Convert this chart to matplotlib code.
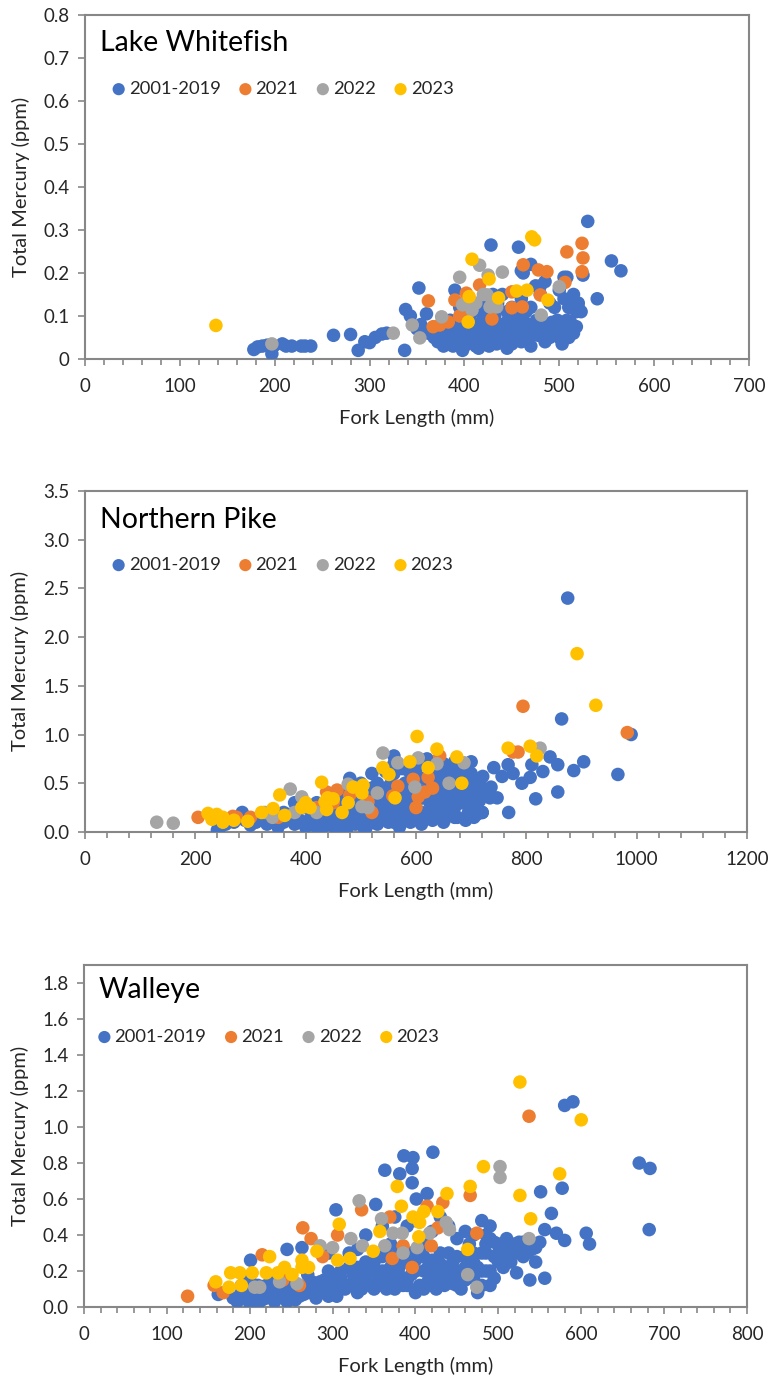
import matplotlib.pyplot as plt
from matplotlib.ticker import MultipleLocator, FormatStrFormatter

plt.rcParams['font.family'] = ['Lato', 'DejaVu Sans']

# Serie names and colours (Excel default palette)
series_names = ['2001-2019', '2021', '2022', '2023']
series_colors = ['#4472C4', '#ED7D31', '#A5A5A5', '#FFC000']

# ---------------- Lake Whitefish ----------------
lw_blue_x = [178, 182, 187, 192, 197, 199, 208, 212, 218, 228, 232, 238,
             262, 280, 288, 295, 300, 306, 313, 318,
             337, 338, 343, 352, 350, 354, 360, 362,
             368, 372, 375, 378, 380, 383, 386, 388, 390, 392,
             395, 397, 400, 402, 404, 406, 408, 410, 412, 414,
             416, 418, 420, 422, 424, 426, 428, 430, 432, 434,
             436, 438, 440, 442, 444, 446, 448, 450, 452, 454,
             456, 458, 460, 462, 464, 466, 468, 470, 472, 474,
             476, 478, 480, 482, 484, 486, 488, 490, 492, 494,
             496, 498, 500, 503, 505, 508, 510, 512, 515, 518,
             390, 395, 400, 405, 410, 415, 420, 425, 430, 435,
             440, 445, 450, 455, 460, 465, 470, 475, 480, 485,
             490, 495, 500, 505, 508, 510, 512, 515, 518, 520,
             523, 525, 540, 505, 520,
             428, 457, 460, 470, 530, 555, 565, 462, 480,
             385, 398, 415, 425, 445, 470, 485, 500, 510, 395]
lw_blue_y = [0.022, 0.028, 0.030, 0.032, 0.012, 0.030, 0.035, 0.030, 0.030, 0.030, 0.030, 0.030,
             0.055, 0.057, 0.020, 0.040, 0.038, 0.050, 0.058, 0.060,
             0.020, 0.115, 0.100, 0.165, 0.070, 0.080, 0.105, 0.060,
             0.050, 0.040, 0.060, 0.030, 0.075, 0.045, 0.060, 0.030, 0.080, 0.050,
             0.040, 0.065, 0.030, 0.050, 0.070, 0.090, 0.040, 0.060, 0.030, 0.080,
             0.050, 0.070, 0.040, 0.090, 0.060, 0.030, 0.075, 0.050, 0.100, 0.035,
             0.065, 0.080, 0.050, 0.040, 0.070, 0.090, 0.060, 0.035, 0.080, 0.050,
             0.070, 0.060, 0.040, 0.090, 0.065, 0.075, 0.050, 0.080, 0.060, 0.070,
             0.090, 0.055, 0.075, 0.060, 0.080, 0.065, 0.070, 0.050, 0.085, 0.060,
             0.075, 0.090, 0.070, 0.035, 0.080, 0.090, 0.070, 0.085, 0.060, 0.075,
             0.160, 0.120, 0.100, 0.130, 0.110, 0.120, 0.100, 0.140, 0.150, 0.130,
             0.150, 0.110, 0.120, 0.100, 0.140, 0.110, 0.120, 0.170, 0.150, 0.180,
             0.130, 0.120, 0.160, 0.140, 0.190, 0.120, 0.130, 0.150, 0.110, 0.120,
             0.110, 0.195, 0.140, 0.190, 0.130,
             0.265, 0.260, 0.205, 0.220, 0.320, 0.228, 0.205, 0.200, 0.170,
             0.090, 0.020, 0.025, 0.045, 0.025, 0.030, 0.040, 0.050, 0.050, 0.085]

lw_orange_x = [362, 390, 402, 416, 367, 374, 383, 429, 450, 450, 461, 462,
               478, 487, 480, 508, 524, 525, 524, 506, 405, 395]
lw_orange_y = [0.135, 0.137, 0.153, 0.172, 0.075, 0.079, 0.086, 0.093, 0.156, 0.119, 0.121, 0.219,
               0.207, 0.203, 0.149, 0.249, 0.269, 0.235, 0.203, 0.178, 0.110, 0.100]

lw_gray_x = [197, 325, 345, 353, 376, 395, 416, 425, 440, 398, 408, 424, 430,
             434, 427, 500, 481, 412, 420]
lw_gray_y = [0.035, 0.060, 0.079, 0.049, 0.098, 0.190, 0.218, 0.195, 0.202, 0.126, 0.114, 0.149, 0.137,
             0.121, 0.121, 0.168, 0.102, 0.130, 0.150]

lw_yellow_x = [138, 408, 471, 474, 426, 405, 436, 455, 466, 488, 404]
lw_yellow_y = [0.078, 0.232, 0.284, 0.277, 0.186, 0.145, 0.142, 0.158, 0.160, 0.137, 0.086]

# ---------------- Northern Pike ----------------
np_blue_x = [240, 245, 255, 270, 285, 290, 300, 310, 320, 330,
             340, 350, 360, 370, 380, 390, 400, 410, 420, 425,
             430, 440, 445, 450, 460, 465, 470, 475, 480, 490,
             500, 505, 510, 515, 520, 525, 530, 535, 540, 545,
             550, 555, 560, 565, 570, 575, 580, 585, 590, 595,
             600, 605, 610, 615, 620, 625, 630, 635, 640, 645,
             650, 655, 660, 665, 670, 675, 680, 685, 690, 695,
             700, 705, 710, 715, 720,
             480, 490, 500, 520, 530, 545, 560, 575, 590, 600,
             620, 640, 650, 660, 670, 680, 700, 560, 510, 530,
             550, 570, 590, 610, 630, 650, 670, 690, 710, 380,
             400, 420, 440, 460, 360, 340,
             721, 741, 756, 767, 776, 792, 807, 830, 810, 736,
             747, 734, 720, 707, 768, 817, 857, 843, 857, 886,
             904, 966, 864, 875, 990, 700, 698,
             420, 430, 440, 450, 455, 460, 470, 480, 485, 495,
             500, 505, 510, 515, 520, 525, 530, 535, 540, 545,
             550, 555, 560, 565, 570, 575, 580, 585, 590, 595,
             600, 605, 610, 615, 620, 625, 630, 635, 640, 645,
             650, 655, 660, 665, 670, 675, 680, 685, 690, 695,
             700, 705, 710, 715, 720, 560, 580, 600, 610, 630,
             650, 670, 690, 520, 500, 490, 470, 460]
np_blue_y = [0.02, 0.05, 0.08, 0.10, 0.20, 0.12, 0.07, 0.10, 0.15, 0.08,
             0.12, 0.05, 0.10, 0.18, 0.08, 0.12, 0.05, 0.15, 0.10, 0.20,
             0.03, 0.08, 0.13, 0.06, 0.10, 0.02, 0.15, 0.04, 0.12, 0.08,
             0.20, 0.30, 0.15, 0.40, 0.25, 0.10, 0.35, 0.20, 0.28, 0.45,
             0.15, 0.30, 0.22, 0.40, 0.12, 0.32, 0.50, 0.25, 0.18, 0.38,
             0.30, 0.55, 0.20, 0.42, 0.35, 0.60, 0.25, 0.48, 0.30, 0.40,
             0.20, 0.55, 0.35, 0.45, 0.25, 0.60, 0.40, 0.30, 0.50, 0.20,
             0.35, 0.28, 0.45, 0.32, 0.20,
             0.55, 0.45, 0.50, 0.60, 0.50, 0.62, 0.70, 0.65, 0.60, 0.70,
             0.75, 0.68, 0.70, 0.62, 0.72, 0.55, 0.60, 0.78, 0.05, 0.08,
             0.10, 0.05, 0.10, 0.08, 0.12, 0.10, 0.15, 0.12, 0.18, 0.30,
             0.25, 0.30, 0.25, 0.35, 0.20, 0.22,
             0.57, 0.66, 0.57, 0.69, 0.60, 0.50, 0.56, 0.62, 0.69, 0.46,
             0.35, 0.35, 0.20, 0.45, 0.20, 0.34, 0.41, 0.77, 0.69, 0.63,
             0.72, 0.59, 1.16, 2.40, 1.00, 0.72, 0.60,
             0.05, 0.15, 0.20, 0.15, 0.25, 0.05, 0.28, 0.20, 0.10, 0.30,
             0.10, 0.05, 0.35, 0.20, 0.45, 0.30, 0.22, 0.12, 0.40, 0.25,
             0.35, 0.50, 0.10, 0.25, 0.35, 0.20, 0.30, 0.45, 0.35, 0.15,
             0.45, 0.20, 0.35, 0.55, 0.15, 0.30, 0.40, 0.20, 0.55, 0.15,
             0.45, 0.30, 0.20, 0.55, 0.40, 0.15, 0.30, 0.45, 0.35, 0.55,
             0.45, 0.15, 0.30, 0.50, 0.40, 0.60, 0.65, 0.60, 0.70, 0.65,
             0.62, 0.50, 0.65, 0.38, 0.40, 0.30, 0.40, 0.20]

np_orange_x = [205, 268, 275, 438, 457, 480, 513, 558, 595, 616, 622, 604, 567,
               643, 776, 785, 794, 983, 420, 450, 520, 600, 630, 350, 300]
np_orange_y = [0.15, 0.16, 0.15, 0.41, 0.43, 0.38, 0.31, 0.37, 0.54, 0.41, 0.56, 0.36, 0.47,
               0.78, 0.82, 0.82, 1.29, 1.02, 0.25, 0.30, 0.20, 0.25, 0.45, 0.15, 0.15]

np_gray_x = [130, 160, 326, 372, 393, 477, 502, 513, 540, 567, 604, 638, 598,
             687, 825, 340, 380, 420, 530, 660]
np_gray_y = [0.10, 0.09, 0.20, 0.44, 0.36, 0.49, 0.26, 0.25, 0.81, 0.71, 0.76, 0.70, 0.46,
             0.71, 0.86, 0.15, 0.20, 0.20, 0.40, 0.50]

np_yellow_x = [223, 239, 250, 250, 295, 353, 341, 362, 393, 408, 429, 435, 450,
               438, 466, 477, 486, 504, 502, 562, 540, 551, 589, 602, 622,
               638, 674, 683, 767, 807, 819, 892, 926, 230, 270, 320, 400, 440]
np_yellow_y = [0.19, 0.18, 0.15, 0.10, 0.11, 0.38, 0.24, 0.17, 0.25, 0.25, 0.51, 0.31, 0.34,
               0.23, 0.20, 0.30, 0.46, 0.48, 0.40, 0.35, 0.66, 0.59, 0.72, 0.98, 0.66,
               0.85, 0.77, 0.50, 0.86, 0.88, 0.78, 1.83, 1.30, 0.13, 0.12, 0.20, 0.30, 0.35]

# ---------------- Walleye ----------------
wa_blue_x = [185, 190, 195, 200, 205, 210, 215, 220, 225, 230,
             235, 240, 245, 250, 255, 260, 265, 270, 275, 280,
             285, 290, 295, 300, 305, 310, 315, 320, 325, 330,
             335, 340, 345, 350, 355, 360, 365, 370, 375, 380,
             385, 390, 395, 400, 405, 410, 415, 420, 425, 430,
             435, 440, 445, 450, 455, 460, 465, 470, 475, 480,
             485, 490, 495, 500,
             200, 210, 230, 250, 270, 290, 310, 330, 350, 370,
             390, 410, 430, 450, 470, 490, 400, 420, 360, 380,
             440, 460, 480, 500,
             162, 201, 245, 263, 304, 352, 363, 381, 396, 386,
             397, 421, 396, 401, 414, 340, 360, 375, 390, 400,
             420, 430, 440, 450, 410, 370, 320, 330, 295, 480,
             485, 495, 505, 510, 520, 525, 530, 540, 545, 506,
             522, 538, 556, 551, 577, 564, 556, 570, 580, 580,
             590, 670, 683, 682, 606, 610, 545, 530, 515,
             180, 190, 200, 210, 215, 220, 230, 240, 245, 255,
             260, 270, 275, 280, 290, 295, 300, 305, 310, 320,
             325, 330, 335, 340, 345, 350, 355, 360, 365, 370,
             375, 380, 385, 390, 395, 400, 405, 410, 415, 420,
             425, 430, 435, 440, 445, 450, 455, 460, 465, 470,
             475, 480, 485, 490, 495, 500, 505, 510, 515, 520,
             525, 530, 535, 545, 550, 485, 490, 470, 460, 475]
wa_blue_y = [0.03, 0.08, 0.05, 0.02, 0.10, 0.06, 0.04, 0.12, 0.07, 0.03,
             0.10, 0.06, 0.15, 0.08, 0.04, 0.12, 0.07, 0.18, 0.10, 0.05,
             0.14, 0.08, 0.20, 0.12, 0.06, 0.16, 0.10, 0.22, 0.14, 0.08,
             0.18, 0.25, 0.12, 0.20, 0.15, 0.28, 0.10, 0.22, 0.16, 0.30,
             0.12, 0.25, 0.18, 0.08, 0.32, 0.20, 0.14, 0.26, 0.10, 0.30,
             0.18, 0.22, 0.13, 0.28, 0.20, 0.15, 0.35, 0.25, 0.12, 0.30,
             0.20, 0.38, 0.28, 0.35,
             0.15, 0.12, 0.14, 0.18, 0.12, 0.15, 0.20, 0.15, 0.10, 0.14,
             0.12, 0.10, 0.15, 0.12, 0.16, 0.12, 0.20, 0.18, 0.20, 0.18,
             0.30, 0.22, 0.20, 0.25,
             0.07, 0.26, 0.32, 0.33, 0.54, 0.57, 0.76, 0.74, 0.77, 0.84,
             0.83, 0.86, 0.69, 0.60, 0.63, 0.40, 0.45, 0.50, 0.45, 0.48,
             0.42, 0.50, 0.45, 0.38, 0.38, 0.35, 0.30, 0.32, 0.30, 0.48,
             0.40, 0.36, 0.34, 0.38, 0.33, 0.30, 0.36, 0.32, 0.35, 0.22,
             0.19, 0.15, 0.16, 0.64, 0.66, 0.52, 0.43, 0.41, 0.37, 1.12,
             1.14, 0.80, 0.77, 0.43, 0.41, 0.35, 0.25, 0.28, 0.25,
             0.05, 0.12, 0.08, 0.02, 0.10, 0.05, 0.09, 0.12, 0.03, 0.10,
             0.06, 0.08, 0.14, 0.10, 0.12, 0.06, 0.18, 0.10, 0.14, 0.12,
             0.18, 0.22, 0.10, 0.15, 0.20, 0.25, 0.12, 0.15, 0.20, 0.28,
             0.10, 0.22, 0.25, 0.15, 0.30, 0.26, 0.12, 0.28, 0.22, 0.12,
             0.20, 0.24, 0.12, 0.16, 0.25, 0.18, 0.10, 0.28, 0.18, 0.30,
             0.22, 0.12, 0.30, 0.20, 0.16, 0.30, 0.28, 0.32, 0.30, 0.35,
             0.36, 0.32, 0.30, 0.33, 0.36, 0.35, 0.45, 0.40, 0.42, 0.08]

wa_orange_x = [125, 157, 168, 215, 264, 274, 288, 306, 335, 369, 385, 372,
               396, 414, 427, 433, 419, 466, 474, 537, 240, 260]
wa_orange_y = [0.06, 0.12, 0.08, 0.29, 0.44, 0.38, 0.28, 0.40, 0.54, 0.50, 0.34, 0.27,
               0.22, 0.56, 0.44, 0.58, 0.34, 0.62, 0.41, 1.06, 0.15, 0.12]

wa_gray_x = [206, 212, 236, 257, 285, 300, 322, 336, 332, 359, 363, 373, 384,
             385, 402, 417, 437, 441, 502, 502, 463, 474, 537]
wa_gray_y = [0.11, 0.11, 0.14, 0.13, 0.34, 0.33, 0.38, 0.34, 0.59, 0.49, 0.34, 0.41, 0.41,
             0.30, 0.33, 0.41, 0.47, 0.43, 0.78, 0.72, 0.18, 0.11, 0.38]

wa_yellow_x = [159, 175, 190, 177, 188, 203, 224, 220, 234, 242, 251, 263, 263,
               271, 281, 308, 306, 321, 378, 383, 357, 349, 397, 405, 410,
               404, 427, 438, 482, 466, 526, 539, 463, 574, 526, 600]
wa_yellow_y = [0.14, 0.11, 0.12, 0.19, 0.19, 0.19, 0.28, 0.19, 0.19, 0.22, 0.18, 0.26, 0.22,
               0.22, 0.31, 0.46, 0.26, 0.27, 0.67, 0.56, 0.42, 0.31, 0.50, 0.47, 0.53,
               0.39, 0.53, 0.63, 0.78, 0.67, 0.62, 0.49, 0.32, 0.74, 1.25, 1.04]

panels = [
    dict(title='Lake Whitefish', rect=[0.1104, 0.7397, 0.8623, 0.2494],
         xmax=700, xmajor=100, xminor=20, ymax=0.8, ymajor=0.1, yfmt=None,
         title_y=0.92, leg_x=0.03, leg_y=0.785,
         data=[(lw_blue_x, lw_blue_y), (lw_orange_x, lw_orange_y),
               (lw_gray_x, lw_gray_y), (lw_yellow_x, lw_yellow_y)]),
    dict(title='Northern Pike', rect=[0.1104, 0.3967, 0.8597, 0.2473],
         xmax=1200, xmajor=200, xminor=40, ymax=3.5, ymajor=0.5, yfmt='%.1f',
         title_y=0.915, leg_x=0.03, leg_y=0.783,
         data=[(np_blue_x, np_blue_y), (np_orange_x, np_orange_y),
               (np_gray_x, np_gray_y), (np_yellow_x, np_yellow_y)]),
    dict(title='Walleye', rect=[0.1091, 0.0522, 0.8610, 0.2480],
         xmax=800, xmajor=100, xminor=20, ymax=1.9, ymajor=0.2, yfmt='%.1f',
         title_y=0.927, leg_x=0.01, leg_y=0.79,
         data=[(wa_blue_x, wa_blue_y), (wa_orange_x, wa_orange_y),
               (wa_gray_x, wa_gray_y), (wa_yellow_x, wa_yellow_y)]),
]

fig = plt.figure(figsize=(7.7, 13.79), dpi=100)

for p in panels:
    ax = fig.add_axes(p['rect'])
    for (xs, ys), name, col in zip(p['data'], series_names, series_colors):
        ax.scatter(xs, ys, s=95, color=col, edgecolors='none', label=name, zorder=3)

    ax.set_xlim(0, p['xmax'])
    ax.set_ylim(0, p['ymax'])
    ax.xaxis.set_major_locator(MultipleLocator(p['xmajor']))
    ax.xaxis.set_minor_locator(MultipleLocator(p['xminor']))
    ax.yaxis.set_major_locator(MultipleLocator(p['ymajor']))
    if p['yfmt']:
        ax.yaxis.set_major_formatter(FormatStrFormatter(p['yfmt']))
    else:
        ax.set_yticks([0, 0.1, 0.2, 0.3, 0.4, 0.5, 0.6, 0.7, 0.8])
        ax.set_yticklabels(['0', '0.1', '0.2', '0.3', '0.4', '0.5', '0.6', '0.7', '0.8'])

    # marco gris estilo Excel
    for s in ax.spines.values():
        s.set_color('#878787')
        s.set_linewidth(1.5)
    ax.tick_params(axis='both', which='major', direction='out', length=5,
                   width=1.2, color='#878787', labelsize=13.5,
                   labelcolor='#262626', pad=6)
    ax.tick_params(axis='x', which='major', pad=9)
    ax.tick_params(axis='x', which='minor', direction='out', length=4,
                   width=1.2, color='#878787')

    ax.set_xlabel('Fork Length (mm)', fontsize=14.5, color='#262626', labelpad=10)
    ax.set_ylabel('Total Mercury (ppm)', fontsize=14.5, color='#262626', labelpad=10)

    ax.text(0.022, p['title_y'], p['title'], transform=ax.transAxes,
            fontsize=20.5, color='black', va='center', ha='left')

    ax.legend(loc='center left', bbox_to_anchor=(p['leg_x'], p['leg_y']),
              ncol=4, frameon=False, fontsize=13.2, handlelength=0.7,
              handletextpad=0.2, columnspacing=1.0, markerscale=0.9,
              borderaxespad=0, labelcolor='#262626')

plt.savefig('out.png', dpi=100)
